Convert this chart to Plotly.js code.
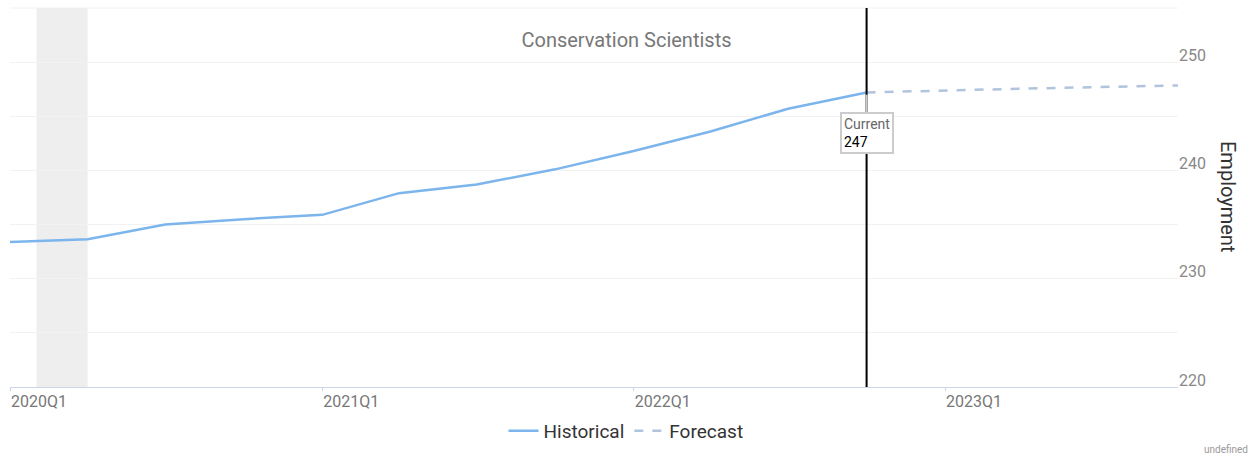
<!DOCTYPE html>
<html>
<head>
<meta charset="utf-8">
<script src="https://cdn.plot.ly/plotly-3.0.1.min.js"></script>
<style>html,body{margin:0;padding:0;background:#fff;}#chart{width:1253px;height:454px;}</style>
</head>
<body>
<div id="chart"></div>
<script>
const histDates = ['2020-01-01','2020-04-01','2020-07-01','2020-10-01','2021-01-01','2021-04-01','2021-07-01','2021-10-01','2022-01-01','2022-04-01','2022-07-01','2022-10-01'];
const histValues = [233.4, 233.65, 235.0, 235.5, 235.9, 237.9, 238.7, 240.1, 241.8, 243.6, 245.7, 247.2];
const fcDates = ['2022-10-01','2023-01-01','2023-04-01','2023-07-01','2023-10-01'];
const fcValues = [247.2, 247.4, 247.55, 247.7, 247.85];
const tickVals = ['2020-01-01','2021-01-01','2022-01-01','2023-01-01'];
const tickText = ['2020Q1','2021Q1','2022Q1','2023Q1'];
const recession = ['2020-02-01','2020-04-01'];
const currentDate = '2022-10-01';
const currentValue = 247;
const FONT = 'Roboto, "Open Sans", sans-serif';

const traces = [
  {x: histDates, y: histValues, type: 'scatter', mode: 'lines', name: 'Historical',
   line: {color: '#7cb5ec', width: 2.5}, hoverinfo: 'skip'},
  {x: fcDates, y: fcValues, type: 'scatter', mode: 'lines', name: 'Forecast',
   line: {color: '#b0c4de', width: 2.5, dash: 'dash'}, hoverinfo: 'skip'}
];

const layout = {
  width: 1253, height: 454,
  margin: {l: 10, r: 75, t: 8, b: 67, autoexpand: false},
  paper_bgcolor: '#fff', plot_bgcolor: '#fff',
  font: {family: FONT, color: '#333'},
  title: {text: 'Conservation Scientists', font: {family: FONT, size: 20, color: '#777'},
          x: 0.5, xref: 'container', xanchor: 'center', y: 1 - 40/454, yref: 'container', yanchor: 'middle'},
  xaxis: {type: 'date', range: ['2020-01-01','2023-10-01'], showgrid: false, zeroline: false, automargin: false,
          tickvals: tickVals, ticktext: tickText, ticklabelposition: 'outside right',
          tickfont: {family: FONT, size: 16, color: '#777'},
          showline: true, linecolor: '#ccd6eb', linewidth: 1,
          ticks: 'outside', ticklen: 3, tickcolor: '#ccd6eb'},
  yaxis: {side: 'right', range: [220, 255], dtick: 10, tick0: 220, showgrid: true, gridcolor: '#f2f2f2',
          zeroline: false, automargin: false, ticklabelposition: 'outside', ticklabelshift: -7,
          tickfont: {family: FONT, size: 16, color: '#888'},
          minor: {dtick: 5, tick0: 220, showgrid: true, gridcolor: '#f2f2f2'}},
  showlegend: true,
  legend: {orientation: 'h', x: (626-10)/1168, xanchor: 'center', y: (387-431)/379, yanchor: 'middle',
           font: {family: FONT, size: 19, color: '#333'}, tracegroupgap: 0},
  shapes: [
    {type: 'line', xref: 'paper', yref: 'paper', x0: 0, x1: 1, y0: 1, y1: 1,
     line: {color: '#f2f2f2', width: 1}, layer: 'below'},
    {type: 'rect', xref: 'x', yref: 'paper', x0: recession[0], x1: recession[1], y0: 0, y1: 1,
     fillcolor: '#eeeeee', line: {width: 0}, layer: 'below'},
    {type: 'line', xref: 'x', yref: 'paper', x0: currentDate, x1: currentDate, y0: 0, y1: 1,
     line: {color: '#000', width: 2}}
  ],
  annotations: [
    {x: currentDate, y: currentValue, xref: 'x', yref: 'y', showarrow: true, arrowhead: 0, arrowcolor: '#cccccc',
     arrowwidth: 2, ax: 0, ay: 38, text: '<span style="color:#666">Current</span><br>247', align: 'left',
     font: {family: FONT, size: 14, color: '#000'}, bgcolor: '#fff', bordercolor: '#cccccc', borderwidth: 2, borderpad: 2},
    {text: 'Employment', textangle: 90, xref: 'paper', yref: 'paper', x: (1228-10)/1168, xanchor: 'center',
     y: (387-197)/379, yanchor: 'middle', showarrow: false, font: {family: FONT, size: 20, color: '#333'}},
    {text: 'undefined', xref: 'paper', yref: 'paper', x: (1250-10)/1168, xanchor: 'right', y: (387-449)/379,
     yanchor: 'middle', showarrow: false, font: {family: FONT, size: 10, color: '#999'}}
  ]
};

Plotly.newPlot('chart', traces, layout, {displayModeBar: false, staticPlot: true});
</script>
</body>
</html>
